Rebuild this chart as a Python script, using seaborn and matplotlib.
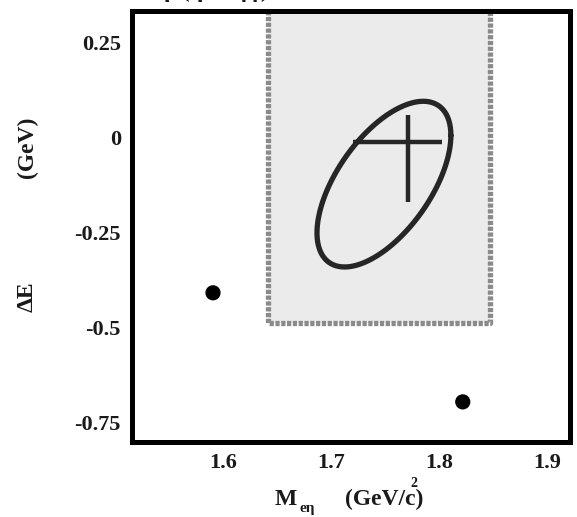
import numpy as np
import pandas as pd
import matplotlib
matplotlib.use("Agg")
import matplotlib.pyplot as plt
import seaborn as sns

# ---- data ----
event_mass = [1.5907, 1.822]          # M_{e eta} of observed events (GeV/c^2)
event_de = [-0.410, -0.697]           # Delta E of observed events (GeV)

box_mass = [1.642, 1.847]             # shaded region in M
box_de_bottom = -0.49                 # shaded region lower edge in Delta E
box_de_top = 0.45                     # extends beyond the frame

ellipse_center = (1.749, -0.124)      # signal ellipse centre
ellipse_half = (0.062, 0.218)         # half extent in M and Delta E
ellipse_phase_deg = 54.0              # tilt (phase between x and y)

cross_center = (1.7715, -0.012)       # signal MC peak
cross_x_err = (0.0512, 0.031)         # (minus, plus)
cross_y_err = (0.158, 0.070)          # (minus, plus)

xticks = [1.6, 1.7, 1.8, 1.9]
xticklabels = ["1.6", "1.7", "1.8", "1.9"]
yticks = [0.25, 0.0, -0.25, -0.5, -0.75]
yticklabels = ["0.25", "0", "-0.25", "-0.5", "-0.75"]

# ---- style ----
sns.set_theme(style="white")
plt.rcParams["font.family"] = ["Liberation Serif", "DejaVu Serif"]
plt.rcParams["mathtext.fontset"] = "stix"

W, H = 577, 517
fig = plt.figure(figsize=(W / 100, H / 100), dpi=100)
ax = fig.add_axes([132 / W, 1 - 442 / H, 438 / W, 431 / H])
ax.set_xlim(1.5157, 1.9213)
ax.set_ylim(-0.8026, 0.3316)

# shaded region
ax.fill_between(box_mass, box_de_bottom, box_de_top, color="#ebebeb", zorder=1, lw=0)
ax.plot([box_mass[0], box_mass[0], box_mass[1], box_mass[1]],
        [box_de_top, box_de_bottom, box_de_bottom, box_de_top],
        color="#8a8a8a", lw=3.8, ls=(0, (0.8, 0.3)), solid_joinstyle="round",
        dash_joinstyle="round", zorder=2)

# ellipse
t = np.linspace(0, 2 * np.pi, 400)
ph = np.deg2rad(ellipse_phase_deg)
ell = pd.DataFrame({
    "m": ellipse_center[0] + ellipse_half[0] * np.cos(t),
    "de": ellipse_center[1] + ellipse_half[1] * np.cos(t - ph),
})
sns.lineplot(data=ell, x="m", y="de", sort=False, estimator=None, ax=ax,
             color="#262626", lw=3.8, zorder=4)

# cross
ax.errorbar([cross_center[0]], [cross_center[1]],
            xerr=[[cross_x_err[0]], [cross_x_err[1]]],
            yerr=[[cross_y_err[0]], [cross_y_err[1]]],
            fmt="none", ecolor="#262626", elinewidth=3.2, capsize=0, zorder=5)

# events
ev = pd.DataFrame({"m": event_mass, "de": event_de})
sns.scatterplot(data=ev, x="m", y="de", ax=ax, color="black", s=120,
                edgecolor="none", zorder=6)

# axes styling
for sp in ax.spines.values():
    sp.set_visible(True)
    sp.set_color("black")
    sp.set_linewidth(3.6)
    sp.set_zorder(10)

ax.set_xticks(xticks)
ax.set_xticklabels(xticklabels)
ax.set_yticks(yticks)
ax.set_yticklabels(yticklabels)
ax.tick_params(direction="in", length=4, width=0.8, color="#aaaaaa",
               labelsize=16, labelcolor="#1a1a1a")
ax.tick_params(axis="x", pad=8)
ax.tick_params(axis="y", pad=8)
for lab in ax.get_xticklabels() + ax.get_yticklabels():
    lab.set_fontweight("bold")
ax.set_xlabel("")
ax.set_ylabel("")

# axis labels
fig.text(27 / W, 1 - 297 / H, "ΔE", rotation=90, ha="center", va="center",
         fontsize=17, fontweight="bold", color="#1a1a1a")
fig.text(27 / W, 1 - 147 / H, "(GeV)", rotation=90, ha="center", va="center",
         fontsize=17, fontweight="bold", color="#1a1a1a")
fig.text(275 / W, 1 - 505 / H, "M", ha="left", va="baseline",
         fontsize=17, fontweight="bold", color="#1a1a1a")
fig.text(299 / W, 1 - 512 / H, "eη", ha="left", va="baseline",
         fontsize=11, fontweight="bold", color="#1a1a1a")
fig.text(345 / W, 1 - 505 / H, "(GeV/c)", ha="left", va="baseline",
         fontsize=17, fontweight="bold", color="#1a1a1a")
fig.text(410 / W, 1 - 487 / H, "2", ha="left", va="baseline",
         fontsize=10, fontweight="bold", color="#1a1a1a")

# clipped title (only descenders visible in the reference)
fig.text(100 / W, 1 + 3.5 / H, "τ → eη  (η → γγ)", ha="left", va="baseline",
         fontsize=17, fontweight="bold", color="#1a1a1a")

fig.savefig("out.png", dpi=100)
